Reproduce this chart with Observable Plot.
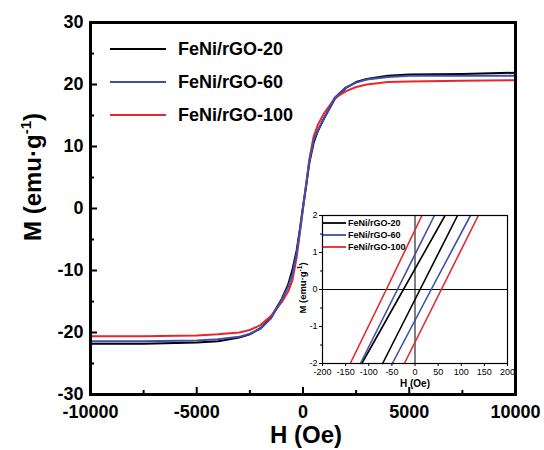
<!DOCTYPE html>
<html><head><meta charset="utf-8">
<script src="https://cdn.jsdelivr.net/npm/d3@7"></script>
<script src="https://cdn.jsdelivr.net/npm/@observablehq/plot@0.6"></script>
<style>
body{margin:0;background:#fff;font-family:"Liberation Sans",Arial,sans-serif;}
#wrap{position:relative;width:544px;height:450px;overflow:hidden;}
#wrap svg{position:absolute;}
</style></head><body><div id="wrap"></div>
<script>
// ---------- data ----------
const seriesNames = ["FeNi/rGO-20", "FeNi/rGO-60", "FeNi/rGO-100"];
const seriesColors = ["#000000", "#3d4fae", "#e8262b"];
const drawOrder = ["FeNi/rGO-20", "FeNi/rGO-100", "FeNi/rGO-60"];

const fieldH = [-10000,-7500,-5000,-4000,-3000,-2500,-2000,-1500,-1000,-700,-500,-300,-150,0,150,300,500,700,1000,1500,2000,2500,3000,4000,5000,7500,10000];
const mBlack = [-21.8,-21.8,-21.6,-21.4,-20.8,-20.3,-19.3,-17.5,-14.6,-12.3,-9.9,-6.8,-3.4,0.3,3.7,7.4,10.6,12.5,14.6,17.7,19.4,20.4,20.9,21.4,21.6,21.7,21.9];
const mBlue  = [-21.4,-21.4,-21.3,-21.1,-20.7,-20.2,-19.4,-17.7,-14.7,-12.6,-10.6,-7.3,-3.7,0.1,3.8,7.6,11.0,12.6,14.6,17.9,19.5,20.3,20.8,21.2,21.4,21.4,21.4];
const mRed   = [-20.6,-20.6,-20.5,-20.3,-20.0,-19.6,-18.8,-17.3,-15.1,-13.4,-11.6,-7.9,-4.0,0.0,4.0,8.0,11.6,13.5,15.4,17.8,18.9,19.6,20.0,20.4,20.5,20.6,20.7];

const xTicks = [-10000, -5000, 0, 5000, 10000];
const xMinor = [-7500, -2500, 2500, 7500];
const yTicks = [-30, -20, -10, 0, 10, 20, 30];
const yMinor = [-25, -15, -5, 5, 15, 25];

// inset: H at M = -2, 0, 2 for each branch
const insetM = [-2, 0, 2];
const insetBlackDesc = [-115, -25, 65];
const insetBlackAsc  = [-70, 11, 92];
const insetBlueDesc  = [-118, -38, 42];
const insetBlueAsc   = [-49, 35, 120];
const insetRedDesc   = [-140, -62, 15];
const insetRedAsc    = [-23, 57, 137];
const insetXTicks = [-200, -150, -100, -50, 0, 50, 100, 150, 200];
const insetYTicks = [-2, -1, 0, 1, 2];
const insetYMinor = [-1.5, -0.5, 0.5, 1.5];

// ---------- build tables ----------
const curveBy = {"FeNi/rGO-20": mBlack, "FeNi/rGO-60": mBlue, "FeNi/rGO-100": mRed};
const rows = [];
for (const s of drawOrder) fieldH.forEach((h, j) => rows.push({series: s, H: h, M: curveBy[s][j]}));

const branchBy = {
  "FeNi/rGO-20": [insetBlackDesc, insetBlackAsc],
  "FeNi/rGO-60": [insetBlueDesc, insetBlueAsc],
  "FeNi/rGO-100": [insetRedDesc, insetRedAsc]
};
const insetRows = [];
for (const s of drawOrder) branchBy[s].forEach((arr, b) =>
  arr.forEach((h, j) => insetRows.push({series: s, branch: s + b, H: h, M: insetM[j]})));

const color = {domain: seriesNames, range: seriesColors};
const FONT = "'Liberation Sans', Arial, sans-serif";
const fmt = d => String(d);
const blank = () => "";

// ---------- main plot ----------
const main = Plot.plot({
  width: 544, height: 450,
  marginLeft: 90, marginRight: 29, marginTop: 22, marginBottom: 56,
  x: {domain: [-10000, 10000]},
  y: {domain: [-30, 30]},
  color,
  style: {fontFamily: FONT, fontSize: "18px", fontWeight: "bold", color: "#000", background: "transparent"},
  marks: [
    Plot.line(rows, {x: "H", y: "M", z: "series", stroke: "series", strokeWidth: 2}),
    Plot.axisX(xTicks, {tickSize: 0, tickPadding: 11, tickFormat: fmt, label: null}),
    Plot.axisX(xTicks, {tickSize: -7, tickFormat: blank, label: null, strokeWidth: 2}),
    Plot.axisX(xMinor, {tickSize: -4, tickFormat: blank, label: null, strokeWidth: 2}),
    Plot.axisY(yTicks, {tickSize: 0, tickPadding: 7, tickFormat: fmt, label: null}),
    Plot.axisY(yTicks, {tickSize: -7, tickFormat: blank, label: null, strokeWidth: 2}),
    Plot.axisY(yMinor, {tickSize: -4, tickFormat: blank, label: null, strokeWidth: 2}),
    Plot.frame({strokeWidth: 3})
  ]
});
main.style.left = "0px"; main.style.top = "0px";
document.getElementById("wrap").appendChild(main);

const ms = d3.select(main);
// axis titles
const yt = ms.append("text").attr("transform", "translate(41,177) rotate(-90)")
  .attr("text-anchor", "middle").attr("font-size", 24).attr("font-weight", "bold").attr("fill", "#000");
yt.append("tspan").text("M (emu·g");
yt.append("tspan").attr("dy", -10).attr("font-size", 15).text("-1");
yt.append("tspan").attr("dy", 10).text(")");
ms.append("text").attr("x", 306).attr("y", 443).attr("text-anchor", "middle")
  .attr("font-size", 24).attr("font-weight", "bold").attr("fill", "#000").text("H (Oe)");
// legend
const lg = ms.append("g").attr("text-anchor", "start");
seriesNames.forEach((s, i) => {
  const y = 49 + i * 33;
  lg.append("line").attr("x1", 110).attr("x2", 166).attr("y1", y).attr("y2", y)
    .attr("stroke", seriesColors[i]).attr("stroke-width", 2);
  lg.append("text").attr("x", 178).attr("y", y).attr("dy", "0.36em").attr("text-anchor", "start")
    .attr("font-size", 18).attr("font-weight", "bold").attr("fill", "#000").text(s);
});

// ---------- inset ----------
const inset = Plot.plot({
  width: 240, height: 190,
  marginLeft: 32, marginRight: 23, marginTop: 10, marginBottom: 32,
  x: {domain: [-200, 200]},
  y: {domain: [-2, 2]},
  color,
  style: {fontFamily: FONT, fontSize: "9px", color: "#000", background: "transparent"},
  marks: [
    Plot.frame({fill: "white", stroke: "none"}),
    Plot.ruleY([0], {stroke: "#000", strokeWidth: 1}),
    Plot.ruleX([0], {stroke: "#000", strokeWidth: 1}),
    Plot.line(insetRows, {x: "H", y: "M", z: "branch", stroke: "series", strokeWidth: 1.6}),
    Plot.frame({strokeWidth: 1.2}),
    Plot.axisX(insetXTicks, {tickSize: 3, tickPadding: 2, tickFormat: fmt, label: null}),
    Plot.axisY(insetYTicks, {tickSize: 3, tickPadding: 2, tickFormat: fmt, label: null}),
    Plot.axisY(insetYMinor, {tickSize: 2, tickFormat: blank, label: null})
  ]
});
inset.style.left = "290px"; inset.style.top = "205px";
document.getElementById("wrap").appendChild(inset);

const is = d3.select(inset);
const iyt = is.append("text").attr("transform", "translate(16,83) rotate(-90)")
  .attr("text-anchor", "middle").attr("font-size", 9.5).attr("font-weight", "bold").attr("fill", "#000");
iyt.append("tspan").text("M (emu·g");
iyt.append("tspan").attr("dy", -4).attr("font-size", 6.5).text("-1");
iyt.append("tspan").attr("dy", 4).text(")");
is.append("text").attr("x", 125).attr("y", 182).attr("text-anchor", "middle")
  .attr("font-size", 10).attr("font-weight", "bold").attr("fill", "#000").text("H (Oe)");
const ilg = is.append("g").attr("text-anchor", "start");
seriesNames.forEach((s, i) => {
  const y = 18 + i * 12;
  ilg.append("line").attr("x1", 33).attr("x2", 56).attr("y1", y).attr("y2", y)
    .attr("stroke", seriesColors[i]).attr("stroke-width", 1.8);
  ilg.append("text").attr("x", 58).attr("y", y).attr("dy", "0.36em").attr("text-anchor", "start")
    .attr("font-size", 9).attr("font-weight", "bold").attr("fill", "#000").text(s);
});
</script>
</body></html>
